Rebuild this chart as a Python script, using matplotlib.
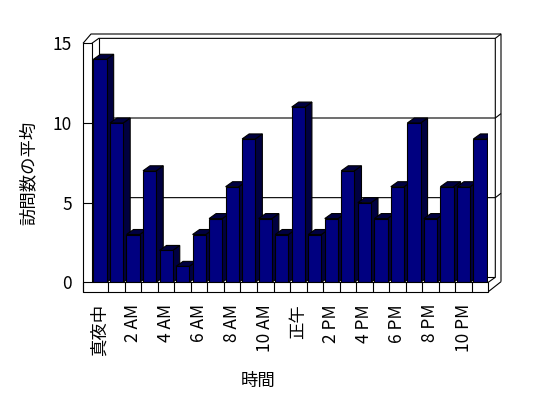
import matplotlib
matplotlib.use('Agg')
import matplotlib.pyplot as plt
from matplotlib.patches import Polygon
import numpy as np

plt.rcParams['font.family'] = ['Noto Sans CJK JP', 'DejaVu Sans']

hours = ['真夜中', '1 AM', '2 AM', '3 AM', '4 AM', '5 AM', '6 AM', '7 AM',
         '8 AM', '9 AM', '10 AM', '11 AM', '正午', '1 PM', '2 PM', '3 PM',
         '4 PM', '5 PM', '6 PM', '7 PM', '8 PM', '9 PM', '10 PM', '11 PM']
visits = [14, 10, 3, 7, 2, 1, 3, 4, 6, 9, 4, 3,
          11, 3, 4, 7, 5, 4, 6, 10, 4, 6, 6, 9]
yticks = [0, 5, 10, 15]

W, H = 548, 398
fig = plt.figure(figsize=(W / 100, H / 100), dpi=100)

# front plane of the 3d box, pixels from top-left
bl, br, bb, bt = 91.8, 488.3, 282.3, 43.35
ax = fig.add_axes([bl / W, 1 - bb / H, (br - bl) / W, (bb - bt) / H])
n = len(hours)
L, R, B, T = -0.5, n - 0.5, 0, 15
ax.set_xlim(L, R)
ax.set_ylim(B, T)
for s in ax.spines.values():
    s.set_visible(False)

ux = (R - L) / (br - bl)   # data units per pixel
uy = (T - B) / (bb - bt)

ddx, ddy = 7 * ux, 5 * uy      # depth of the box
tx, ty = 5.7 * ux, 4.35 * uy   # back wall thickness
lw_x = 8.8 * ux                # left wall thickness
fl_y = 9.4 * uy                # floor thickness
K = dict(color='black', lw=0.8, clip_on=False, solid_capstyle='butt')


def line(pts, z=1):
    xs, ys = zip(*pts)
    ax.plot(xs, ys, zorder=z, **K)


# back wall
line([(L + ddx, T + ddy), (L + ddx, B + ddy), (R + ddx, B + ddy)])
line([(L - lw_x, T), (L - 0.8 * ux, T + ddy + ty), (R + ddx + tx, T + ddy + ty)])
line([(L, T), (L + ddx, T + ddy), (R + ddx, T + ddy), (R + ddx, B + ddy)])
line([(R + ddx, T + ddy), (R + ddx + tx, T + ddy + ty),
      (R + ddx + tx, B - fl_y + 10 * uy)])
for v in yticks[1:-1]:
    line([(L, v), (L + ddx, v + ddy), (R + ddx, v + ddy),
          (R + ddx + tx, v + ddy + ty)])

# bars with side and top faces
x = np.arange(n)
w = 0.8
bars = ax.bar(x, visits, width=w, color='#000080', edgecolor='black', linewidth=0.8)
for i, (b, v) in enumerate(zip(bars, visits)):
    b.set_zorder(4 + 2 * i)
    l, r = x[i] - w / 2, x[i] + w / 2
    ax.add_patch(Polygon([(r, 0), (r + ddx, ddy), (r + ddx, v + ddy), (r, v)],
                         fc='#000040', ec='black', lw=0.8, zorder=3 + 2 * i))
    ax.add_patch(Polygon([(l, v), (l + ddx, v + ddy), (r + ddx, v + ddy), (r, v)],
                         fc='#000040', ec='black', lw=0.8, zorder=3 + 2 * i))

# left wall front face
zf = 100
ax.add_patch(Polygon([(L - lw_x, B - fl_y), (L - lw_x, T), (L, T), (L, B)],
                     fc='white', ec='none', clip_on=False, zorder=zf))
line([(L - lw_x, B - fl_y), (L - lw_x, T), (L, T), (L, B)], z=zf + 1)
for v in yticks[1:-1]:
    line([(L - lw_x, v), (L, v)], z=zf + 1)

# floor
ax.add_patch(Polygon([(L - lw_x, B), (R, B), (R, B - fl_y), (L - lw_x, B - fl_y)],
                     fc='white', ec='black', lw=0.8, clip_on=False, zorder=zf))
for k in range(n - 1):
    line([(k + 0.5, B), (k + 0.5, B - fl_y)], z=zf + 1)
line([(R, B), (R + ddx, B + ddy)], z=zf + 1)
line([(R, B - fl_y), (R + ddx + tx, B - fl_y + 10 * uy)], z=zf + 1)

ax.set_xticks(x[::2])
ax.set_xticklabels(hours[::2], rotation=90)
ax.set_yticks(yticks)
ax.tick_params(axis='x', length=0, pad=15.6, labelsize=12.5)
ax.tick_params(axis='y', length=0, pad=14.3, labelsize=12.5)

ax.set_ylabel('訪問数の平均', fontsize=12.5, va='center')
ax.yaxis.set_label_coords(-0.16, 0.457)
ax.set_xlabel('時間', fontsize=12.5, va='center')
ax.xaxis.set_label_coords(0.419, -0.413)

fig.savefig('out.png', dpi=100)
